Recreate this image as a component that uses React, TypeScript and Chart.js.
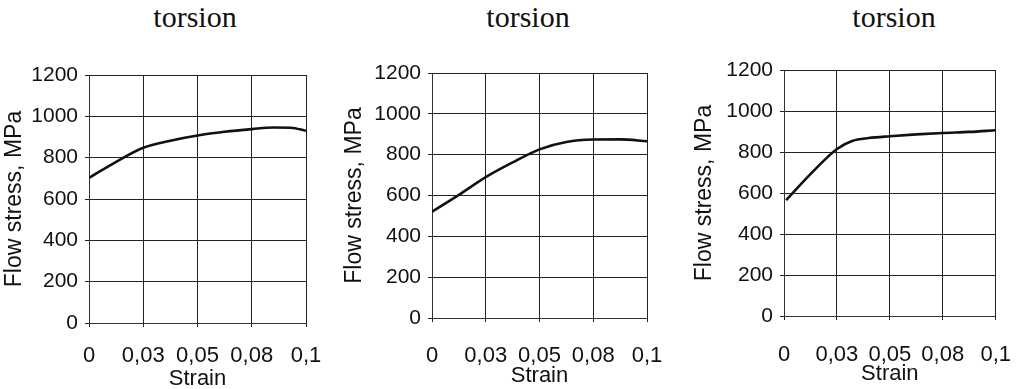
import React, { useEffect, useRef } from "react";
import { Chart, registerables } from "chart.js";

Chart.register(...registerables);

const chartTitles = ["torsion", "torsion", "torsion"];
const xAxisTitle = "Strain";
const yAxisTitle = "Flow stress, MPa";

const xTickValues = [0, 0.025, 0.05, 0.075, 0.1];
const xTickLabels = ["0", "0,03", "0,05", "0,08", "0,1"];
const yTickLabels = ["0", "200", "400", "600", "800", "1000", "1200"];

const strain1 = [0, 0.0125, 0.025, 0.0375, 0.05, 0.0625, 0.075, 0.085, 0.093, 0.1];
const stress1 = [702, 780, 848, 882, 907, 925, 938, 946, 945, 930];

const strain2 = [0, 0.0125, 0.025, 0.0375, 0.05, 0.0625, 0.075, 0.0875, 0.1];
const stress2 = [520, 603, 690, 762, 826, 862, 874, 875, 866];

const strain3 = [0.001, 0.0125, 0.025, 0.0325, 0.04, 0.05, 0.0625, 0.075, 0.0875, 0.1];
const stress3 = [565, 692, 815, 855, 868, 877, 886, 893, 898, 906];

type Panel = {
  xs: number[];
  ys: number[];
  left: number;
  top: number;
  width: number;
  height: number;
  plotL: number;
  plotT: number;
  plotR: number;
  plotB: number;
  xTickPad: number;
  titleCx: number;
};

const panels: Panel[] = [
  { xs: strain1, ys: stress1, left: 0, top: 40, width: 340, height: 352, plotL: 89, plotT: 75, plotR: 306, plotB: 323, xTickPad: 16, titleCx: 195 },
  { xs: strain2, ys: stress2, left: 340, top: 40, width: 345, height: 349, plotL: 432, plotT: 73, plotR: 647, plotB: 318, xTickPad: 21, titleCx: 528 },
  { xs: strain3, ys: stress3, left: 690, top: 40, width: 343, height: 347, plotL: 784, plotT: 70, plotR: 1004, plotB: 316, xTickPad: 22, titleCx: 894 },
];

const FONT = "'Liberation Sans', Arial, sans-serif";

function PanelChart({ p }: { p: Panel }) {
  const ref = useRef<HTMLCanvasElement | null>(null);
  useEffect(() => {
    if (!ref.current) return;
    const yW = p.plotL - p.left;
    const xH = p.top + p.height - p.plotB;
    const chart = new Chart(ref.current, {
      type: "line",
      data: {
        datasets: [
          {
            data: p.xs.map((x, i) => ({ x, y: p.ys[i] })),
            borderColor: "#111",
            borderWidth: 2.6,
            pointRadius: 0,
            fill: false,
            cubicInterpolationMode: "monotone",
          },
        ],
      },
      options: {
        animation: false,
        responsive: false,
        maintainAspectRatio: false,
        layout: {
          padding: {
            top: p.plotT - p.top,
            right: p.left + p.width - p.plotR,
            left: 0,
            bottom: 0,
          },
        },
        plugins: { legend: { display: false }, tooltip: { enabled: false }, title: { display: false } },
        scales: {
          x: {
            type: "linear",
            min: 0,
            max: 0.1,
            afterBuildTicks: (s: any) => {
              s.ticks = xTickValues.map((v) => ({ value: v }));
            },
            afterFit: (s: any) => {
              s.height = xH;
            },
            ticks: {
              autoSkip: false,
              maxRotation: 0,
              padding: p.xTickPad,
              color: "#111",
              font: { family: FONT, size: 22 },
              callback: (_v: any, i: number) => xTickLabels[i],
            },
            grid: { color: "#222", lineWidth: 1, tickLength: 4 },
            border: { color: "#333", width: 1 },
            title: {
              display: true,
              text: xAxisTitle,
              color: "#111",
              font: { family: FONT, size: 22 },
              padding: { top: 0, bottom: 0 },
            },
          },
          y: {
            min: 0,
            max: 1200,
            ticks: {
              stepSize: 200,
              padding: 7,
              color: "#111",
              font: { family: FONT, size: 21 },
              callback: (_v: any, i: number) => yTickLabels[i],
            },
            afterFit: (s: any) => {
              s.width = yW;
            },
            grid: { color: "#222", lineWidth: 1, tickLength: 4 },
            border: { color: "#333", width: 1 },
            title: {
              display: true,
              text: yAxisTitle,
              color: "#111",
              font: { family: FONT, size: 23 },
              padding: { top: 1, bottom: 0 },
            },
          },
        },
      },
    } as any);
    return () => chart.destroy();
  }, [p]);
  return (
    <canvas
      ref={ref}
      width={p.width}
      height={p.height}
      style={{ position: "absolute", left: p.left, top: p.top, width: p.width, height: p.height }}
    />
  );
}

export default function App() {
  return (
    <div
      style={{
        position: "fixed",
        left: 0,
        top: 0,
        width: 1033,
        height: 389,
        overflow: "hidden",
        background: "#fff",
      }}
    >
      {panels.map((p, i) => (
        <div
          key={"t" + i}
          style={{
            position: "absolute",
            top: 2,
            left: p.titleCx - 100,
            width: 200,
            textAlign: "center",
            fontFamily: "'Liberation Serif', 'Times New Roman', serif",
            fontSize: 30,
            lineHeight: "30px",
            color: "#111",
          }}
        >
          {chartTitles[i]}
        </div>
      ))}
      {panels.map((p, i) => (
        <PanelChart key={i} p={p} />
      ))}
    </div>
  );
}
